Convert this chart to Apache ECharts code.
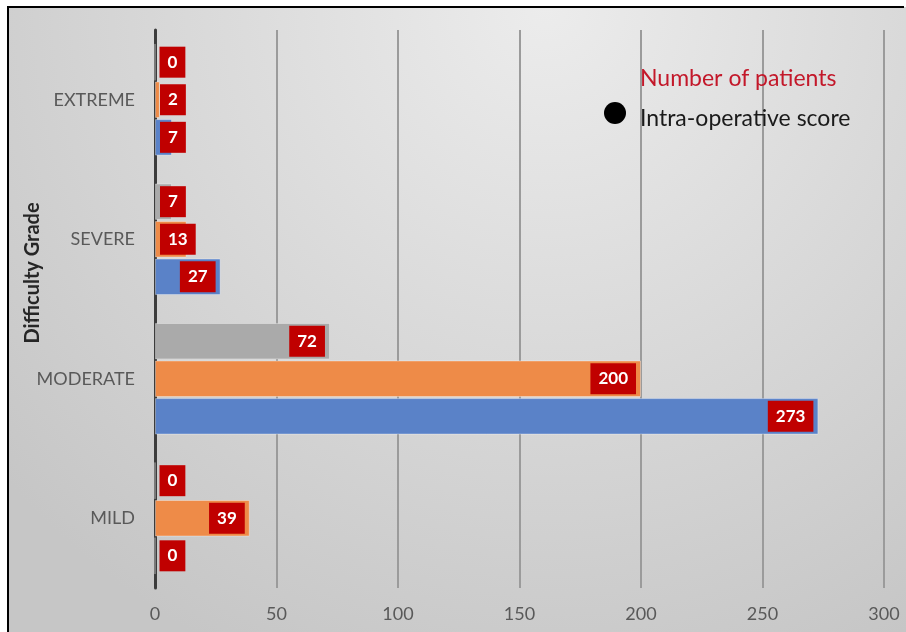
<!DOCTYPE html>
<html>
<head>
<meta charset="utf-8">
<script src="https://cdn.jsdelivr.net/npm/echarts@6/dist/echarts.min.js"></script>
<style>
html,body{margin:0;padding:0;background:#fff;}
#c{width:906px;height:632px;}
</style>
</head>
<body>
<div id="c"></div>
<script>
const categories = ['MILD', 'MODERATE', 'SEVERE', 'EXTREME'];
const blueValues = [0, 273, 27, 7];
const orangeValues = [39, 200, 13, 2];
const grayValues = [0, 72, 7, 0];
const xTicks = [0, 50, 100, 150, 200, 250, 300];
const axisTitle = 'Difficulty Grade';
const legendTitle = 'Number of patients';
const legendItem = 'Intra-operative score';

const FONT = 'Lato';

function toData(values) {
  return values.map(v => ({
    value: v,
    label: { position: v < 20 ? 'insideLeft' : 'insideRight' }
  }));
}

const labelStyle = {
  show: true,
  distance: 5,
  color: '#ffffff',
  fontWeight: 'bold',
  fontSize: 17,
  fontFamily: FONT,
  backgroundColor: '#c00000',
  padding: [7, 8, 7, 8],
  formatter: p => String(p.value)
};

function barSeries(name, values, color) {
  return {
    name: name,
    type: 'bar',
    data: toData(values),
    barCategoryGap: '20%',
    barGap: '3%',
    itemStyle: { color: color, borderColor: 'rgba(255,255,255,0.35)', borderWidth: 1 },
    label: labelStyle
  };
}

const chart = echarts.init(document.getElementById('c'), null, { renderer: 'canvas' });
chart.setOption({
  animation: false,
  textStyle: { fontFamily: FONT },
  grid: { left: 155, right: 22, top: 30, bottom: 44, containLabel: false },
  xAxis: {
    type: 'value',
    min: xTicks[0],
    max: xTicks[xTicks.length - 1],
    interval: xTicks[1] - xTicks[0],
    axisLine: { show: false },
    axisTick: { show: false },
    axisLabel: { color: '#595959', fontSize: 18, margin: 17, fontFamily: FONT },
    splitLine: { show: true, lineStyle: { color: '#9b9b9b', width: 2 } }
  },
  yAxis: {
    type: 'category',
    data: categories,
    axisLine: { show: true, lineStyle: { color: '#3c3c3c', width: 3 } },
    axisTick: { show: false },
    axisLabel: { color: '#595959', fontSize: 18, margin: 20, fontFamily: FONT }
  },
  series: [
    barSeries('Other', grayValues, '#aaaaaa'),
    barSeries('Pre-operative', orangeValues, '#ee8b48'),
    barSeries('Intra-operative', blueValues, '#5a82c8')
  ],
  graphic: [
    {
      type: 'rect', z: -10, silent: true,
      shape: { x: 8, y: 7, width: 898, height: 625 },
      style: {
        fill: new echarts.graphic.RadialGradient(0.6, 0.0, 1.15, [
          { offset: 0, color: '#ececec' },
          { offset: 1, color: '#c6c6c6' }
        ])
      }
    },
    {
      type: 'polyline', z: 100, silent: true,
      shape: { points: [[8, 632], [8, 7], [904, 7]] },
      style: { stroke: '#000', lineWidth: 2, fill: null }
    },
    {
      type: 'text', z: 100,
      x: 33, y: 273, rotation: Math.PI / 2,
      style: {
        text: axisTitle, fill: '#262626', font: 'bold 20px ' + FONT,
        textAlign: 'center', textVerticalAlign: 'middle'
      }
    },
    {
      type: 'text', z: 100, x: 640, y: 79,
      style: {
        text: legendTitle, fill: '#c3182a', font: '23px ' + FONT,
        textAlign: 'left', textVerticalAlign: 'middle'
      }
    },
    {
      type: 'circle', z: 100,
      shape: { cx: 615, cy: 113, r: 11 },
      style: { fill: '#000' }
    },
    {
      type: 'text', z: 100, x: 640, y: 119,
      style: {
        text: legendItem, fill: '#1a1a1a', font: '23px ' + FONT,
        textAlign: 'left', textVerticalAlign: 'middle'
      }
    }
  ]
});
</script>
</body>
</html>
